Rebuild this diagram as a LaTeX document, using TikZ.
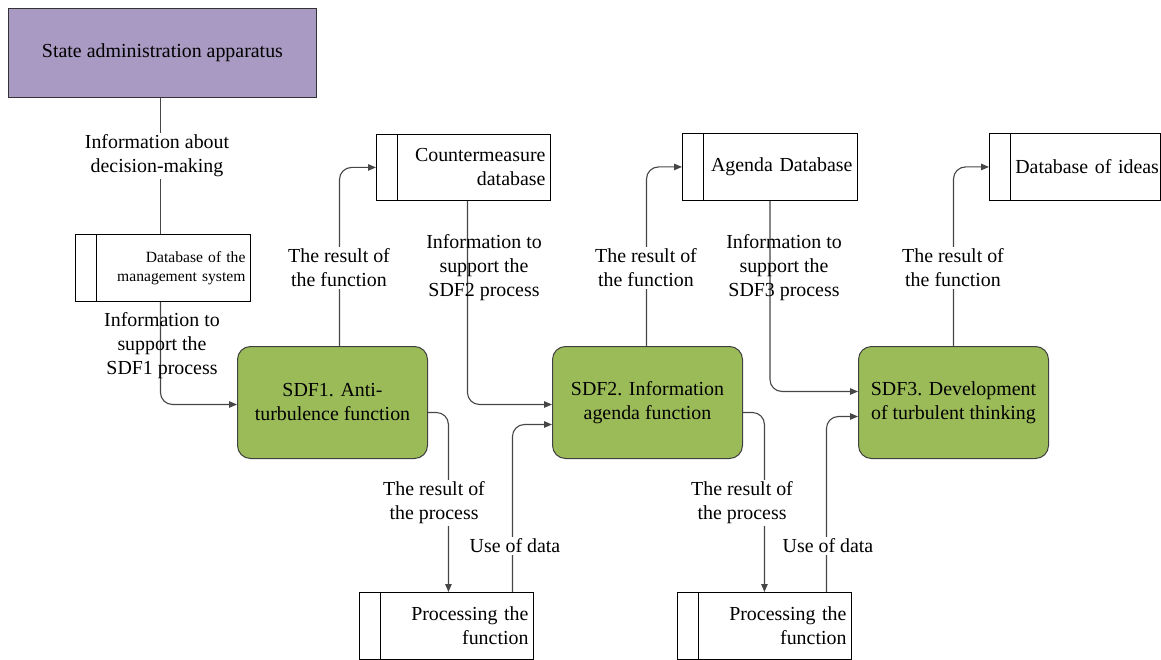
\documentclass[tikz,border=0pt]{standalone}
\usepackage{fontspec}
\setmainfont{Liberation Serif}
\usetikzlibrary{arrows.meta,calc}
\definecolor{stpurple}{RGB}{168,154,194}
\definecolor{sdfgreen}{RGB}{155,187,89}
\definecolor{connc}{RGB}{70,70,70}
\begin{document}
\begin{tikzpicture}[x=1pt,y=-1pt,
  every node/.style={font=\fontsize{19.9}{24}\selectfont, text=black},
  dbbox/.style={draw=black, line width=0.9pt, anchor=north west, inner xsep=5pt, inner ysep=0pt, align=right},
  statebox/.style={draw=black!80, line width=0.9pt, fill=stpurple, anchor=north west, minimum width=308pt, minimum height=89pt, inner sep=0pt},
  sdfbox/.style={draw=black!75, line width=1pt, fill=sdfgreen, rounded corners=13pt, anchor=north west, minimum width=190pt, minimum height=112pt, inner sep=2pt, align=center},
  conn/.style={draw=connc, line width=1.1pt, rounded corners=12pt},
  arr/.style={conn, -{Triangle[length=8pt,width=6.5pt]}},
  divider/.style={draw=black, line width=0.9pt},
  lbl/.style={align=center, inner sep=2pt},
  lblw/.style={lbl, fill=white}
]
\useasboundingbox (0,0) rectangle (1161,660);

% boxes
\node[statebox] (state) at (8,8) {State administration apparatus};
\node[dbbox, minimum width=175pt, minimum height=67pt, text width=165pt, font=\fontsize{15.6}{19}\selectfont] (mgmt) at (75,234) {Database of the\\management system};
\node[dbbox, minimum width=174pt, minimum height=66pt, text width=164pt] (cm) at (376,134) {Countermeasure\\database};
\node[dbbox, minimum width=175pt, minimum height=67pt, text width=165pt] (ag) at (682,133) {Agenda Database};
\node[dbbox, minimum width=171pt, minimum height=67pt, inner xsep=1.5pt, text width=168pt] (ideas) at (989,133) {Database of ideas};
\node[dbbox, minimum width=174pt, minimum height=67pt, text width=164pt] (proc1) at (359,592) {Processing the\\function};
\node[dbbox, minimum width=174pt, minimum height=67pt, text width=164pt] (proc2) at (677,592) {Processing the\\function};

\node[sdfbox] (sdf1) at (237,346) {SDF1. Anti-\\turbulence function};
\node[sdfbox] (sdf2) at (552,346) {SDF2. Information\\agenda function};
\node[sdfbox] (sdf3) at (858,346) {SDF3. Development\\of turbulent thinking};

% dividers
\foreach \b in {mgmt,cm,ag,ideas,proc1,proc2}{
  \draw[divider] ($(\b.north west)+(21.5,0)$) -- ($(\b.south west)+(21.5,0)$);
}

% connectors
\draw[conn] ($(state.south)+(-2,0)$) -- ($(mgmt.north)+(-2.5,0)$);
\draw[arr] ($(mgmt.south)+(-2.5,0)$) |- ($(sdf1.west)+(0,2)$);
\draw[arr] ($(sdf1.north)+(7,0)$) |- (cm.west);
\draw[arr] ($(cm.south)+(4,0)$) |- ($(sdf2.west)+(0,2)$);
\draw[arr] ($(sdf2.north)+(-1,0)$) |- (ag.west);
\draw[arr] (ag.south) |- ($(sdf3.west)+(0,-11)$);
\draw[arr] (sdf3.north) |- (ideas.west);
\draw[arr] ($(sdf1.east)+(0,10)$) -| ($(proc1.north)+(2,0)$);
\draw[arr] ($(proc1.north)+(66,0)$) |- ($(sdf2.west)+(0,22)$);
\draw[arr] ($(sdf2.east)+(0,10)$) -| (proc2.north);
\draw[arr] ($(proc2.north)+(62,0)$) |- ($(sdf3.west)+(0,14)$);

% labels
\node[lblw] (l1) at (157,156) {Information about\\decision-making};
\node[lbl] (l2) at (162,346) {Information to\\support the\\SDF1 process};
\node[lblw] (l3) at (339,268) {The result of\\the function};
\node[lbl] (l4) at (484,268) {Information to\\support the\\SDF2 process};
\node[lblw] (l5) at (646,268) {The result of\\the function};
\node[lbl] (l6) at (784,268) {Information to\\support the\\SDF3 process};
\node[lblw] (l7) at (953,268) {The result of\\the function};
\node[lblw] (l8) at (434,503) {The result of\\the process};
\node[lblw] (l9) at (515,546) {Use of data};
\node[lblw] (l10) at (742,503) {The result of\\the process};
\node[lblw] (l11) at (828,546) {Use of data};
\end{tikzpicture}
\end{document}
